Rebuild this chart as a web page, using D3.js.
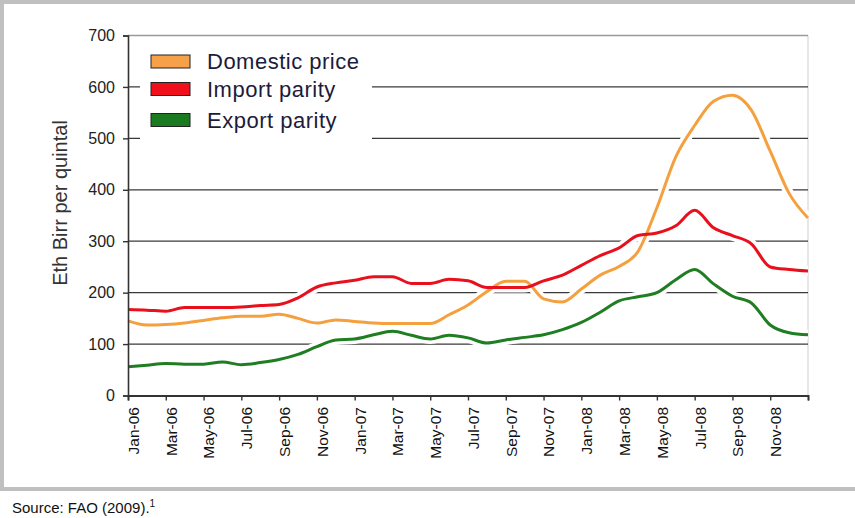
<!DOCTYPE html>
<html>
<head>
<meta charset="utf-8">
<script src="https://cdn.jsdelivr.net/npm/d3@7"></script>
<style>
  body { margin: 0; background: #fff; }
  text { font-family: "Liberation Sans", Arial, sans-serif; }
</style>
</head>
<body>
<div id="chart"></div>
<script>
// values at the start of each month, Jan-06 .. Jan-09 (Eth Birr per quintal)
const tickLabels = ["Jan-06", "Mar-06", "May-06", "Jul-06", "Sep-06", "Nov-06",
                    "Jan-07", "Mar-07", "May-07", "Jul-07", "Sep-07", "Nov-07",
                    "Jan-08", "Mar-08", "May-08", "Jul-08", "Sep-08", "Nov-08"];
const domestic = [145, 137, 138, 141, 146, 151, 154, 154, 158, 150, 141, 147, 144, 141, 140, 140, 140, 157,
                  176, 202, 222, 222, 188, 182, 207, 234, 251, 280, 365, 464, 525, 572, 584, 555, 475, 393, 345];
const importParity = [167, 166, 164, 171, 171, 171, 172, 175, 177, 190, 211, 219, 224, 231, 231, 218, 218, 226,
                      223, 210, 210, 210, 223, 234, 253, 272, 287, 311, 316, 330, 360, 326, 311, 295, 250, 245, 242];
const exportParity = [56, 59, 62, 61, 61, 65, 60, 64, 70, 80, 95, 108, 110, 118, 125, 117, 110, 117,
                      112, 102, 108, 113, 118, 128, 142, 162, 184, 192, 200, 225, 245, 217, 193, 180, 137, 122, 118];
const yTicks = [0, 100, 200, 300, 400, 500, 600, 700];
const seriesNames = ["Domestic price", "Import parity", "Export parity"];

const width = 855;
const height = 518;
const plotLeft = 128, plotRight = 808, plotTop = 35.5, plotBottom = 395.5;
const colors = ["#f5a03e", "#e8101c", "#1f7d22"];
const boxColors = ["#f7a04a", "#f0101c", "#1a7a1f"];

const svg = d3.select("#chart").append("svg")
    .attr("width", width)
    .attr("height", height);

svg.append("rect").attr("width", width).attr("height", height).attr("fill", "#fff");

// grey frame
svg.append("rect").attr("x", 0).attr("y", 0).attr("width", width).attr("height", 4).attr("fill", "#c0c0c0");
svg.append("rect").attr("x", 0).attr("y", 0).attr("width", 4).attr("height", 491).attr("fill", "#c0c0c0");
svg.append("rect").attr("x", 0).attr("y", 487).attr("width", width).attr("height", 4).attr("fill", "#c0c0c0");

const months = d3.range(domestic.length);
const x = d3.scaleLinear().domain([0, 36]).range([plotLeft, plotRight]);
const y = d3.scaleLinear().domain([0, 700]).range([plotBottom, plotTop]);

// plot border right + gridlines
svg.append("line")
    .attr("x1", plotRight).attr("x2", plotRight).attr("y1", plotTop).attr("y2", plotBottom)
    .attr("stroke", "#cfcfcf").attr("stroke-width", 1);

svg.append("g").selectAll("line")
    .data(yTicks.filter(d => d > 0))
    .join("line")
    .attr("x1", plotLeft).attr("x2", plotRight)
    .attr("y1", d => y(d)).attr("y2", d => y(d))
    .attr("stroke", d => d === 700 ? "#9a9a9a" : "#3a3a3a")
    .attr("stroke-width", 1.3);

// lines, with a white halo that breaks the gridlines
const series = [domestic, importParity, exportParity];
const line = d3.line()
    .x((d, i) => x(months[i]))
    .y(d => y(d))
    .curve(d3.curveMonotoneX);

svg.append("g").selectAll("path")
    .data(series)
    .join("path")
    .attr("d", line)
    .attr("fill", "none")
    .attr("stroke", "#fff")
    .attr("stroke-width", 10)
    .attr("stroke-linejoin", "round");

svg.append("g").selectAll("path")
    .data(series)
    .join("path")
    .attr("d", line)
    .attr("fill", "none")
    .attr("stroke", (d, i) => colors[i])
    .attr("stroke-width", 3)
    .attr("stroke-linejoin", "round");

// y axis
const yAxis = d3.axisLeft(y).tickValues(yTicks).tickSize(5).tickPadding(8);
const gy = svg.append("g")
    .attr("transform", `translate(${plotLeft},0)`)
    .call(yAxis);
gy.select(".domain").attr("stroke", "#333").attr("stroke-width", 1.6);
gy.selectAll(".tick line").attr("stroke", "#333").attr("stroke-width", 1.4);
gy.selectAll(".tick text")
    .attr("font-size", 16)
    .attr("fill", "#222")
    .style("font-family", "Liberation Sans, Arial, sans-serif");

// x axis: ticks at every second month boundary
const xAxis = d3.axisBottom(x).tickValues(d3.range(0, 37, 2)).tickSize(5).tickFormat("");
const gx = svg.append("g")
    .attr("transform", `translate(0,${plotBottom})`)
    .call(xAxis);
gx.select(".domain").attr("stroke", "#333").attr("stroke-width", 1.8);
gx.selectAll(".tick line").attr("stroke", "#333").attr("stroke-width", 1.4);

svg.append("g").selectAll("text")
    .data(tickLabels)
    .join("text")
    .attr("transform", (d, i) => `translate(${x(i * 2 + 0.5) - 4},407) rotate(-90)`)
    .attr("text-anchor", "end")
    .attr("dy", "0.35em")
    .attr("font-size", 15.5)
    .attr("fill", "#111")
    .text(d => d);

// y title
svg.append("text")
    .attr("transform", "translate(60,203) rotate(-90)")
    .attr("text-anchor", "middle")
    .attr("dy", "0.35em")
    .attr("font-size", 20)
    .attr("fill", "#333")
    .text("Eth Birr per quintal");

// legend
const legend = svg.append("g");
legend.append("rect")
    .attr("x", 140).attr("y", 44).attr("width", 232).attr("height", 100)
    .attr("fill", "#fff");
const rows = legend.selectAll("g.row")
    .data(seriesNames)
    .join("g")
    .attr("class", "row")
    .attr("transform", (d, i) => `translate(151,${[61.5, 89, 120][i]})`);
rows.append("rect")
    .attr("x", 0).attr("y", -6.5).attr("width", 39).attr("height", 13)
    .attr("fill", (d, i) => boxColors[i])
    .attr("stroke", "#222").attr("stroke-width", 1);
rows.append("text")
    .attr("x", 56)
    .attr("dy", "0.36em")
    .attr("font-size", 22)
    .attr("letter-spacing", 0.5)
    .attr("fill", "#1c1c3a")
    .text(d => d);

// source note
const src = svg.append("text")
    .attr("x", 12).attr("y", 513)
    .attr("font-size", 15)
    .attr("fill", "#111");
src.append("tspan").text("Source: FAO (2009).");
src.append("tspan").attr("font-size", 10).attr("dy", -6).text("1");
</script>
</body>
</html>
